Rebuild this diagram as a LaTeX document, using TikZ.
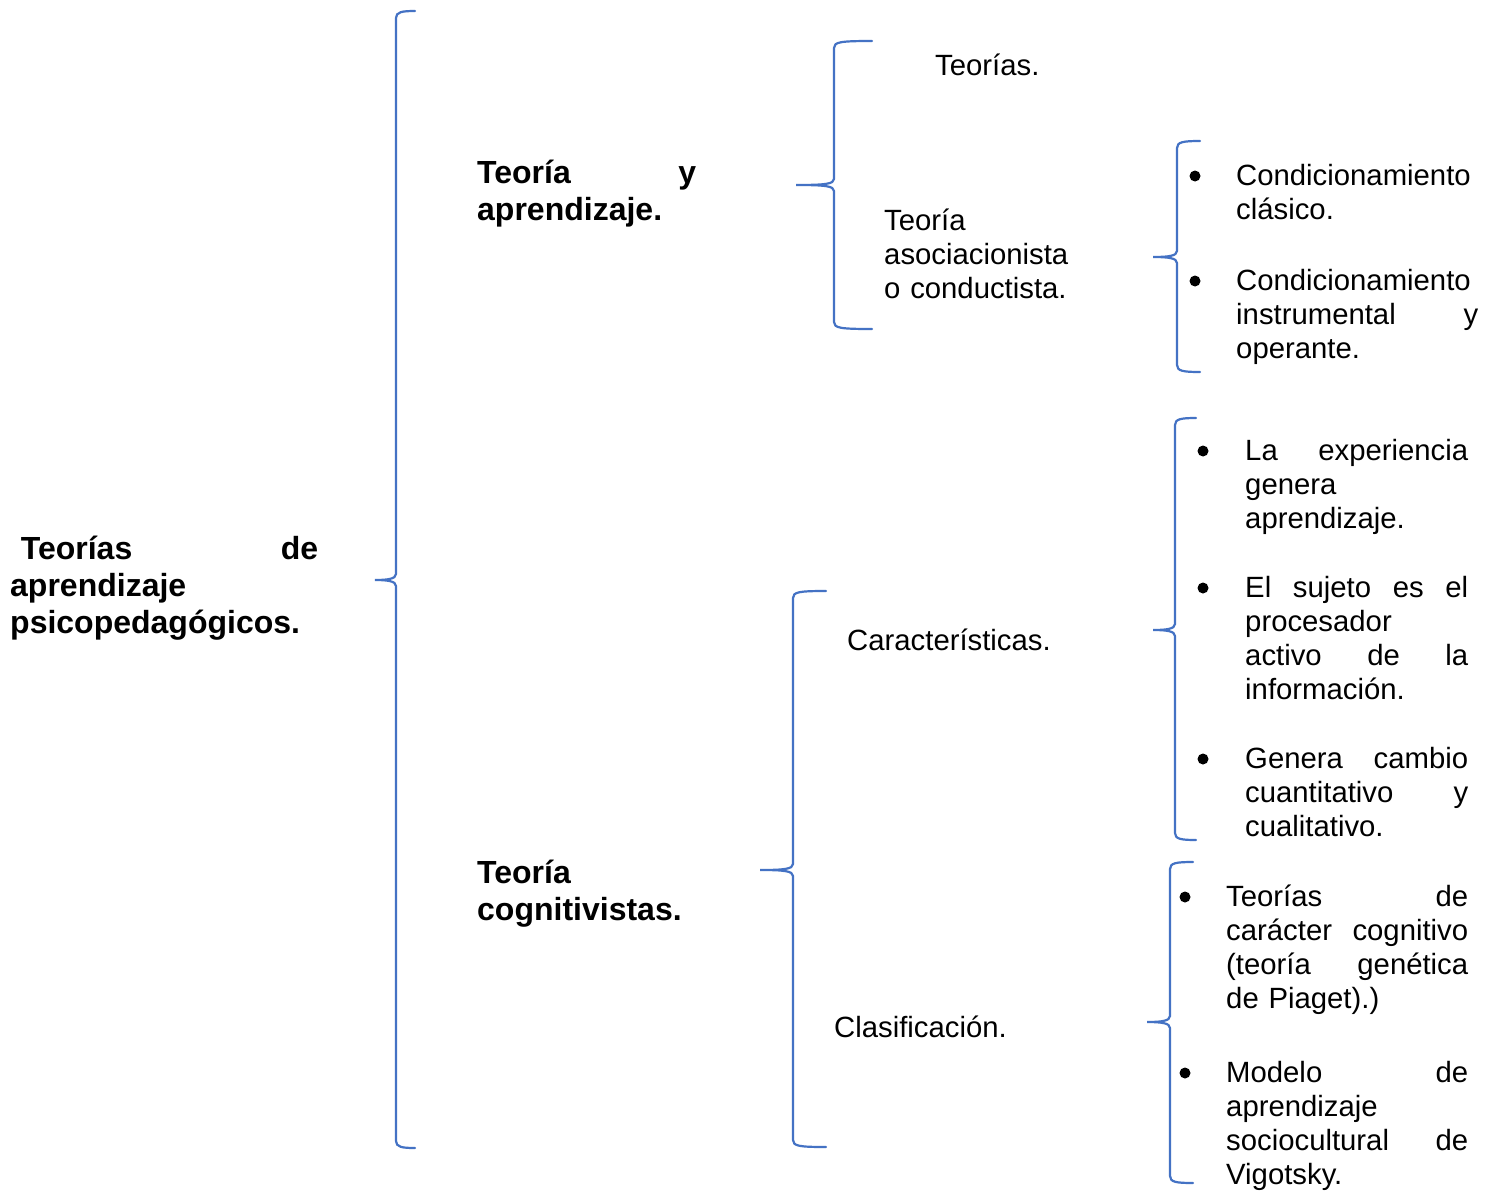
\documentclass[tikz,border=0pt]{standalone}
\usepackage{fontspec}
\setmainfont{Liberation Sans}
\definecolor{braceblue}{RGB}{68,114,196}
\newcommand{\bracedraw}[6]{% xv, xe, xt, yt, ym, yb
  \draw[bracestyle] (#2,#4) .. controls (#1+6,#4) and (#1,#4+1) .. (#1,#4+7)
    -- (#1,#5-6) .. controls (#1,#5-1) and (#1-9,#5) .. (#3,#5)
    .. controls (#1-9,#5) and (#1,#5+1) .. (#1,#5+6)
    -- (#1,#6-7) .. controls (#1,#6-1) and (#1+6,#6) .. (#2,#6);}
\begin{document}
\begin{tikzpicture}[x=1pt,y=-1pt,
  bracestyle/.style={draw=braceblue,line width=2.2pt,line cap=round},
  txt/.style={anchor=base west,inner sep=0pt,font=\fontsize{29.3}{34}\selectfont},
  boldtxt/.style={anchor=base west,inner sep=0pt,font=\fontsize{32}{37}\selectfont\bfseries},
  blist/.style={txt,align=left},
  bul/.style={circle,fill=black,inner sep=0pt,minimum size=11pt}]
\useasboundingbox[fill=white] (0,0) rectangle (1496,1191);

% braces
\bracedraw{396}{415}{375}{11}{580}{1148}
\bracedraw{834}{872}{796}{41}{185}{329}
\bracedraw{1177}{1200}{1153}{141}{257}{372}
\bracedraw{1175}{1196}{1153}{418}{630}{840}
\bracedraw{793}{826}{760}{591}{870}{1147}
\bracedraw{1170}{1193}{1147}{862}{1022}{1183}

% main texts
\node[boldtxt,text width=308pt,align=left] (root) at (10,559)
  {\ Teorías\hfill de\\aprendizaje\\psicopedagógicos.};
\node[boldtxt,text width=219pt,align=left] (tya) at (477,183)
  {Teoría\hfill y\\aprendizaje.};
\node[boldtxt,text width=240pt,align=left] (tcog) at (477,883)
  {Teoría\\cognitivistas.};

\node[txt] (teorias) at (935,75) {Teorías.};
\node[txt,text width=220pt,align=left] (asoc) at (884,230) {Teoría\\asociacionista\\o conductista.};
\node[txt] (caract) at (847,650) {Características.};
\node[txt] (clasif) at (834,1037) {Clasificación.};

% list 1
\node[bul] (b11) at (1195,176) {};
\node[blist,text width=242pt] (l11) at (1236,185) {Condicionamiento\\clásico.};
\node[bul] (b12) at (1195,281) {};
\node[blist,text width=242pt] (l12) at (1236,290) {Condicionamiento\\instrumental\hfill y\\operante.};

% list 2
\node[bul] (b21) at (1203,451) {};
\node[blist,text width=223pt] (l21) at (1245,460) {La\hfill experiencia\\genera\\aprendizaje.};
\node[bul] (b22) at (1203,588) {};
\node[blist,text width=223pt] (l22) at (1245,597) {El\hfill sujeto\hfill es\hfill el\\procesador\\activo\hfill de\hfill la\\información.};
\node[bul] (b23) at (1203,759) {};
\node[blist,text width=223pt] (l23) at (1245,768) {Genera\hfill cambio\\cuantitativo\hfill y\\cualitativo.};

% list 3
\node[bul] (b31) at (1185,897) {};
\node[blist,text width=242pt] (l31) at (1226,906) {Teorías\hfill de\\carácter\hfill cognitivo\\(teoría\hfill genética\\de Piaget).)};
\node[bul] (b32) at (1185,1073) {};
\node[blist,text width=242pt] (l32) at (1226,1082) {Modelo\hfill de\\aprendizaje\\sociocultural\hfill de\\Vigotsky.};
\end{tikzpicture}
\end{document}
